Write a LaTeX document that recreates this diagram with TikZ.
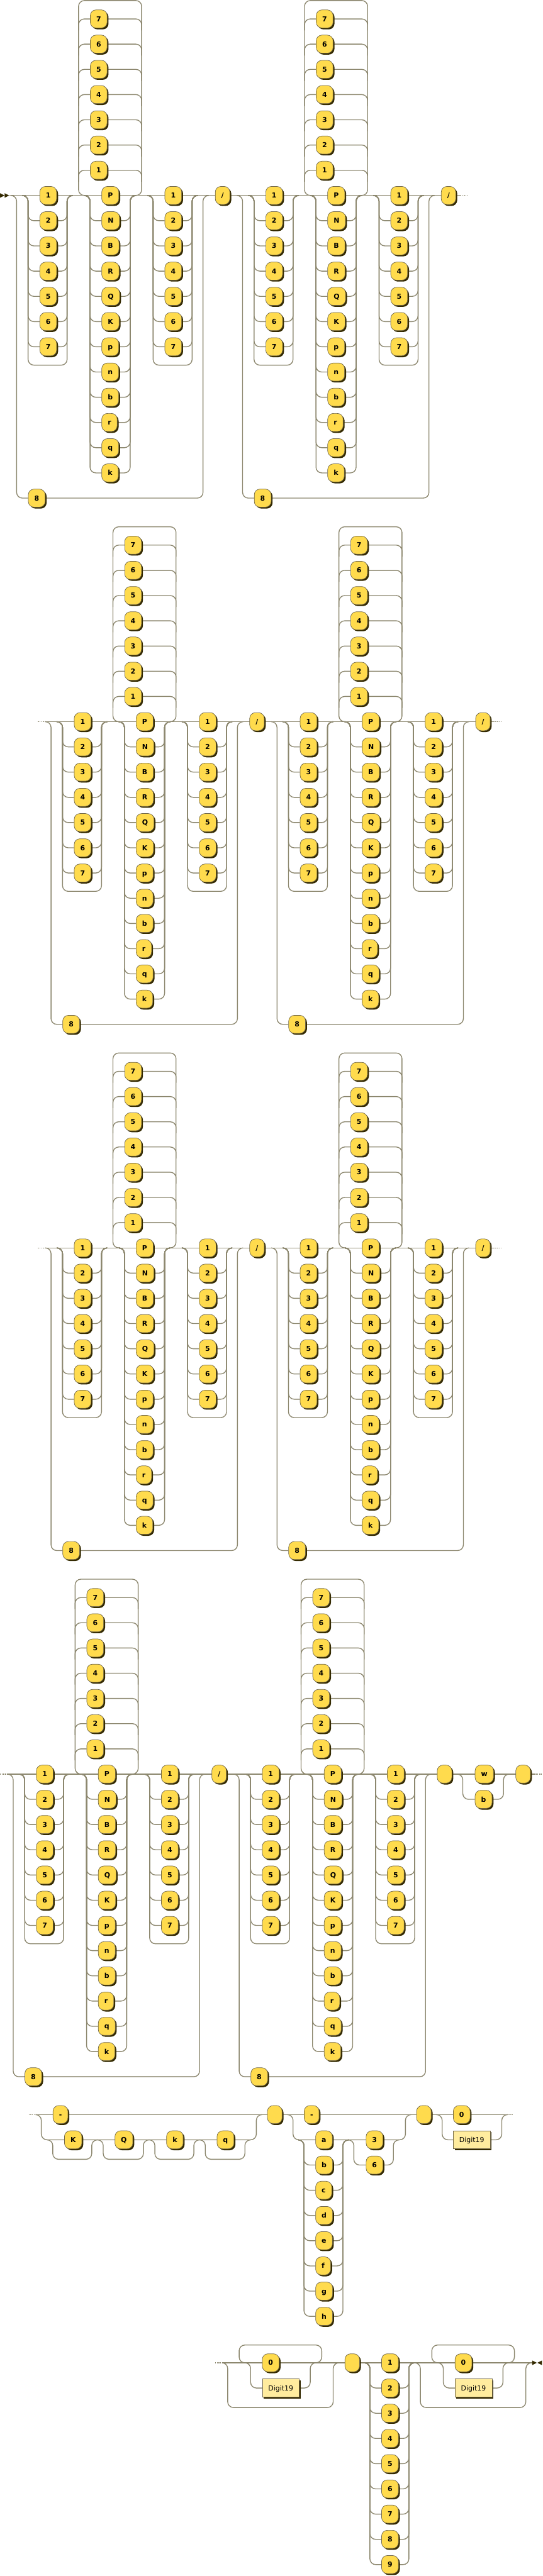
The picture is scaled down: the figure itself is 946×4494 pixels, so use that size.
\documentclass[tikz,border=0pt]{standalone}
\usepackage{fontspec}
\setmainfont{DejaVu Sans}
\usetikzlibrary{shadows}
\pgfdeclarelayer{bg}
\pgfsetlayers{bg,main}
\definecolor{linecol}{RGB}{140,135,110}
\definecolor{termfill}{HTML}{FFDB4D}
\definecolor{ntfill}{HTML}{FFEC9E}
\definecolor{shadowcol}{HTML}{332900}
\definecolor{edgecol}{RGB}{115,105,75}
\tikzset{
  rr/.style={draw=linecol, line width=1.5pt, rounded corners=10pt},
  dotsline/.style={draw=linecol, line width=1.5pt, dash pattern=on 1.5pt off 1.5pt},
  boxbase/.style={draw=edgecol, line width=0.8pt, minimum height=31.5pt, inner xsep=10.5pt, inner ysep=0pt, text height=8.75pt, text depth=0pt, text=black, anchor=west, drop shadow={shadow xshift=2.5pt, shadow yshift=-2.5pt, opacity=1, fill=shadowcol}},
  term/.style={boxbase, fill=termfill, rounded corners=10pt, font=\bfseries\fontsize{12}{14}\selectfont},
  nterm/.style={boxbase, fill=ntfill, sharp corners, font=\fontsize{12}{14}\selectfont},
  spacebox/.style={term, minimum width=25.5pt},
  tip/.style={fill=shadowcol, draw=none},
}
% one rank: #1 prefix, #2 x of the "8" branch, #3 y of main line
\newcommand{\rankblock}[3]{%
  \pgfmathsetmacro{\bX}{#2}%
  \pgfmathsetmacro{\bY}{#3}%
  \node[term] (#1e) at (\bX+20,\bY+528) {8};
  \foreach \t [count=\i from 0] in {1,2,3,4,5,6,7} {\node[term] (#1a\i) at (\bX+40,\bY+44*\i) {\t};}
  \foreach \i in {1,...,7} {\node[term] (#1l\i) at (\bX+128,\bY-44*\i) {\i};}
  \foreach \t [count=\i from 0] in {P,N,B,R,Q,K,p,n,b,r,q,k} {\node[term] (#1p\i) at (\bX+148,\bY+44*\i) {\t};}
  \foreach \t [count=\i from 0] in {1,2,3,4,5,6,7} {\node[term] (#1c\i) at (\bX+258,\bY+44*\i) {\t};}
  \begin{pgfonlayer}{bg}
    % "8" alternative
    \draw[rr] (\bX-10,\bY) -| (\bX,\bY+528) -- (#1e.west);
    \draw[rr] (#1e.east) -| (\bX+325,\bY) -- (\bX+335,\bY);
    % optional 1..7 before piece
    \draw[rr] (\bX+10,\bY) -- (\bX+20,\bY) -- (\bX+20,\bY+296) -- (\bX+88,\bY+296) -- (\bX+88,\bY) -- (\bX+98,\bY);
    \foreach \i in {1,...,6} {
      \draw[rr] (\bX+10,\bY) -| (\bX+20,\bY+44*\i) -- (#1a\i.west);
      \draw[rr] (#1a\i.east) -| (\bX+88,\bY) -- (\bX+98,\bY);
    }
    % loop back over digits
    \draw[rr] (\bX+118,\bY) -- (\bX+108,\bY) -- (\bX+108,\bY-340) -- (\bX+218,\bY-340) -- (\bX+218,\bY) -- (\bX+208,\bY);
    \foreach \i in {1,...,7} {
      \draw[rr] (#1l\i.west) -| (\bX+108,\bY-44*\i+20);
      \draw[rr] (#1l\i.east) -| (\bX+218,\bY-44*\i+20);
    }
    % pieces
    \foreach \i in {1,...,11} {
      \draw[rr] (\bX+118,\bY) -| (\bX+128,\bY+44*\i) -- (#1p\i.west);
      \draw[rr] (#1p\i.east) -| (\bX+198,\bY) -- (\bX+208,\bY);
    }
    % optional 1..7 after piece
    \draw[rr] (\bX+228,\bY) -- (\bX+238,\bY) -- (\bX+238,\bY+296) -- (\bX+306,\bY+296) -- (\bX+306,\bY) -- (\bX+316,\bY);
    \foreach \i in {1,...,6} {
      \draw[rr] (\bX+228,\bY) -| (\bX+238,\bY+44*\i) -- (#1c\i.west);
      \draw[rr] (#1c\i.east) -| (\bX+306,\bY) -- (\bX+316,\bY);
    }
  \end{pgfonlayer}
}
\begin{document}
\begin{tikzpicture}[x=1pt,y=-1pt]
\useasboundingbox (0,0) rectangle (946,4494);

% ---------------- row 1
\coordinate (r1s) at (16,341); \coordinate (r1e) at (803,341);
\begin{pgfonlayer}{bg}
\draw[rr] (r1s) -- (r1e);
\draw[dotsline] (r1e) -- ++(15,0);
\end{pgfonlayer}
\fill[tip] (0,337) -- (8,341) -- (0,345) -- cycle;
\fill[tip] (8,337) -- (16,341) -- (8,345) -- cycle;
\rankblock{r1b1}{29}{341}
\node[term] (r1sl1) at (375,341) {/};
\rankblock{r1b2}{423}{341}
\node[term] (r1sl2) at (769,341) {/};

% ---------------- row 2
\coordinate (r2s) at (78,1259); \coordinate (r2e) at (861,1259);
\begin{pgfonlayer}{bg}
\draw[dotsline] (66,1259) -- (r2s);
\draw[rr] (r2s) -- (r2e);
\draw[dotsline] (r2e) -- ++(13,0);
\end{pgfonlayer}
\rankblock{r2b1}{89}{1259}
\node[term] (r2sl1) at (435,1259) {/};
\rankblock{r2b2}{483}{1259}
\node[term] (r2sl2) at (829,1259) {/};

% ---------------- row 3
\coordinate (r3s) at (78,2177); \coordinate (r3e) at (861,2177);
\begin{pgfonlayer}{bg}
\draw[dotsline] (66,2177) -- (r3s);
\draw[rr] (r3s) -- (r3e);
\draw[dotsline] (r3e) -- ++(13,0);
\end{pgfonlayer}
\rankblock{r3b1}{89}{2177}
\node[term] (r3sl1) at (435,2177) {/};
\rankblock{r3b2}{483}{2177}
\node[term] (r3sl2) at (829,2177) {/};

% ---------------- row 4
\coordinate (r4s) at (12,3095); \coordinate (r4e) at (931,3095);
\begin{pgfonlayer}{bg}
\draw[dotsline] (0,3095) -- (r4s);
\draw[rr] (r4s) -- (r4e);
\draw[dotsline] (r4e) -- ++(14,0);
\end{pgfonlayer}
\rankblock{r4b1}{23}{3095}
\node[term] (r4sl1) at (369,3095) {/};
\rankblock{r4b2}{417}{3095}
\node[spacebox] (r4sp1) at (762,3095) {};
\node[term] (r4w) at (828,3095) {w};
\node[term] (r4b) at (828,3139) {b};
\node[spacebox] (r4sp2) at (899,3095) {};
\begin{pgfonlayer}{bg}
\draw[rr] (797,3095) -| (807,3139) -- (r4b.west);
\draw[rr] (r4b.east) -| (878,3095) -- (888,3095);
\end{pgfonlayer}

% ---------------- row 5
\coordinate (r5s) at (62,3689); \coordinate (r5e) at (884,3689);
\node[term] (r5m1) at (92,3689) {-};
\node[term] (r5K) at (112,3733) {K};
\node[term] (r5Q) at (200,3733) {Q};
\node[term] (r5k) at (290,3733) {k};
\node[term] (r5q) at (378,3733) {q};
\node[spacebox] (r5sp1) at (466,3689) {};
\node[term] (r5m2) at (530,3689) {-};
\foreach \t [count=\i from 0] in {a,b,c,d,e,f,g,h} {\node[term] (r5f\i) at (550,3733+44*\i) {\t};}
\node[term] (r5r0) at (638,3733) {3};
\node[term] (r5r1) at (638,3777) {6};
\node[spacebox] (r5sp2) at (726,3689) {};
\node[term] (r5z) at (790,3689) {0};
\node[nterm] (r5d) at (790,3733) {Digit19};
\begin{pgfonlayer}{bg}
\draw[dotsline] (50,3689) -- (r5s);
\draw[rr] (r5s) -- (r5e);
\draw[dotsline] (r5e) -- ++(12,0);
\draw[rr] (62,3689) -- (72,3689) -- (72,3733) -- (447,3733) -- (447,3689) -- (457,3689);
\foreach \p/\q in {92/160,180/250,270/338,358/427} {
  \draw[rr] (\p-10,3733) -- (\p,3733) -- (\p,3767) -- (\q,3767) -- (\q,3733) -- (\q+10,3733);
}
\draw[rr] (501,3689) -- (511,3689) -- (511,3733) -- (707,3733) -- (707,3689) -- (717,3689);
\foreach \i in {1,...,7} {
  \draw[rr] (520,3733) -| (530,3733+44*\i) -- (r5f\i.west);
  \draw[rr] (r5f\i.east) -| (598,3733) -- (608,3733);
}
\draw[rr] (607,3733) -| (617,3777) -- (r5r1.west);
\draw[rr] (r5r1.east) -| (686,3733) -- (696,3733);
\draw[rr] (761,3689) -| (771,3733) -- (r5d.west);
\draw[rr] (r5d.east) -| (875,3689) -- (885,3689);
\end{pgfonlayer}

% ---------------- row 6
\coordinate (r6s) at (387,4122); \coordinate (r6e) at (928,4122);
\node[term] (r6z1) at (457,4122) {0};
\node[nterm] (r6d1) at (457,4166) {Digit19};
\node[spacebox] (r6sp) at (601,4122) {};
\foreach \t [count=\i from 0] in {1,2,3,4,5,6,7,8,9} {\node[term] (r6n\i) at (665,4122+44*\i) {\t};}
\node[term] (r6z2) at (793,4122) {0};
\node[nterm] (r6d2) at (793,4166) {Digit19};
\begin{pgfonlayer}{bg}
\draw[dotsline] (375,4122) -- (r6s);
\draw[rr] (r6s) -- (r6e);
\draw[rr] (387,4122) -- (397,4122) -- (397,4200) -- (581,4200) -- (581,4122) -- (591,4122);
\draw[rr] (427,4122) -- (417,4122) -- (417,4091) -- (561,4091) -- (561,4122) -- (551,4122);
\draw[rr] (427,4122) -| (437,4166) -- (r6d1.west);
\draw[rr] (r6d1.east) -| (541,4122) -- (551,4122);
\foreach \i in {1,...,8} {
  \draw[rr] (635,4122) -| (645,4122+44*\i) -- (r6n\i.west);
  \draw[rr] (r6n\i.east) -| (713,4122) -- (723,4122);
}
\draw[rr] (723,4122) -- (733,4122) -- (733,4200) -- (917,4200) -- (917,4122) -- (927,4122);
\draw[rr] (763,4122) -- (753,4122) -- (753,4091) -- (897,4091) -- (897,4122) -- (887,4122);
\draw[rr] (763,4122) -| (773,4166) -- (r6d2.west);
\draw[rr] (r6d2.east) -| (877,4122) -- (887,4122);
\end{pgfonlayer}
\fill[tip] (r6e) ++(0,-4) -- ++(8,4) -- ++(-8,4) -- cycle;
\fill[tip] (945,4118) -- (937,4122) -- (945,4126) -- cycle;
\end{tikzpicture}
\end{document}
